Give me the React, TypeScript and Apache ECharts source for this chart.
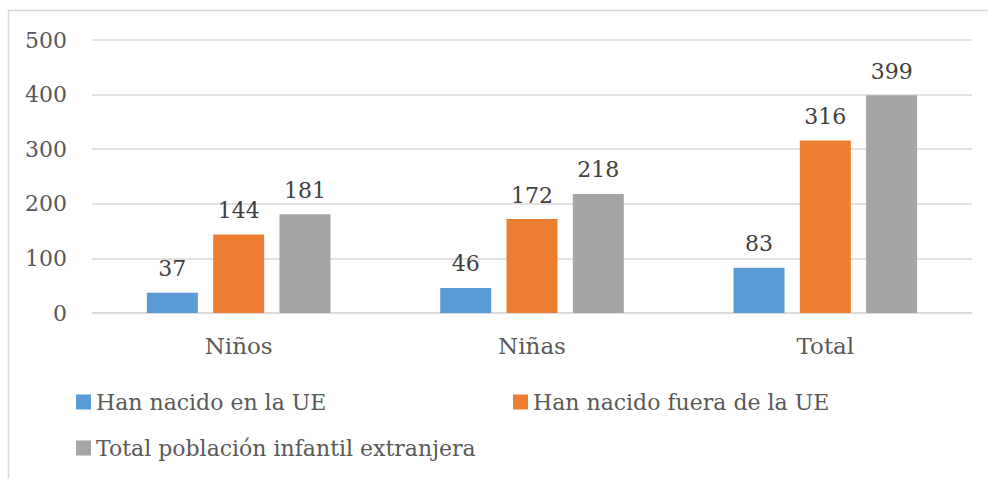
import React, { useEffect, useRef } from "react";
import * as echarts from "echarts";

const categories = ["Niños", "Niñas", "Total"];
const seriesNames = [
  "Han nacido en la UE",
  "Han nacido fuera de la UE",
  "Total población infantil extranjera",
];
const bornInEU = [37, 46, 83];
const bornOutsideEU = [144, 172, 316];
const totalForeign = [181, 218, 399];
const colors = ["#5B9BD5", "#ED7D31", "#A5A5A5"];

const FONT = "DejaVu Serif";
const TEXT = "#595959";

export default function App() {
  const ref = useRef<HTMLDivElement>(null);
  useEffect(() => {
    document.body.style.margin = "0";
    const chart = echarts.init(ref.current!, null, { renderer: "svg" });
    const values = [bornInEU, bornOutsideEU, totalForeign];
    const legendPos = [
      { left: 76, top: 391 },
      { left: 513, top: 391 },
      { left: 76, top: 437 },
    ];
    chart.setOption({
      animation: false,
      textStyle: { fontFamily: FONT },
      graphic: [
        {
          type: "rect",
          shape: { x: 8.5, y: 10.5, width: 990, height: 480 },
          style: { fill: "none", stroke: "#D9D9D9", lineWidth: 1.5 },
          silent: true,
        },
      ],
      grid: { left: 92, right: 16, top: 40, bottom: 166 },
      legend: seriesNames.map((n, i) => ({
        data: [n],
        ...legendPos[i],
        padding: 0,
        itemWidth: 15,
        itemHeight: 15,
        itemGap: 6,
        icon: "rect",
        textStyle: { fontFamily: FONT, fontSize: 22, color: TEXT },
      })),
      xAxis: {
        type: "category",
        data: categories,
        axisLine: { lineStyle: { color: "#D9D9D9", width: 1.5 } },
        axisTick: { show: false },
        axisLabel: { fontFamily: FONT, fontSize: 23, color: TEXT, margin: 21 },
      },
      yAxis: {
        type: "value",
        min: 0,
        max: 500,
        interval: 100,
        axisLine: { show: false },
        axisTick: { show: false },
        splitLine: { lineStyle: { color: "#D9D9D9", width: 1.5 } },
        axisLabel: { fontFamily: FONT, fontSize: 22, color: TEXT, margin: 25 },
      },
      series: seriesNames.map((n, i) => ({
        name: n,
        type: "bar",
        data: values[i],
        barWidth: 51,
        barGap: "30%",
        itemStyle: { color: colors[i] },
        label: {
          show: true,
          position: "top",
          distance: 13,
          fontFamily: FONT,
          fontSize: 22,
          color: "#404040",
        },
      })),
    });
    return () => chart.dispose();
  }, []);
  return <div ref={ref} style={{ width: 988, height: 479 }} />;
}
